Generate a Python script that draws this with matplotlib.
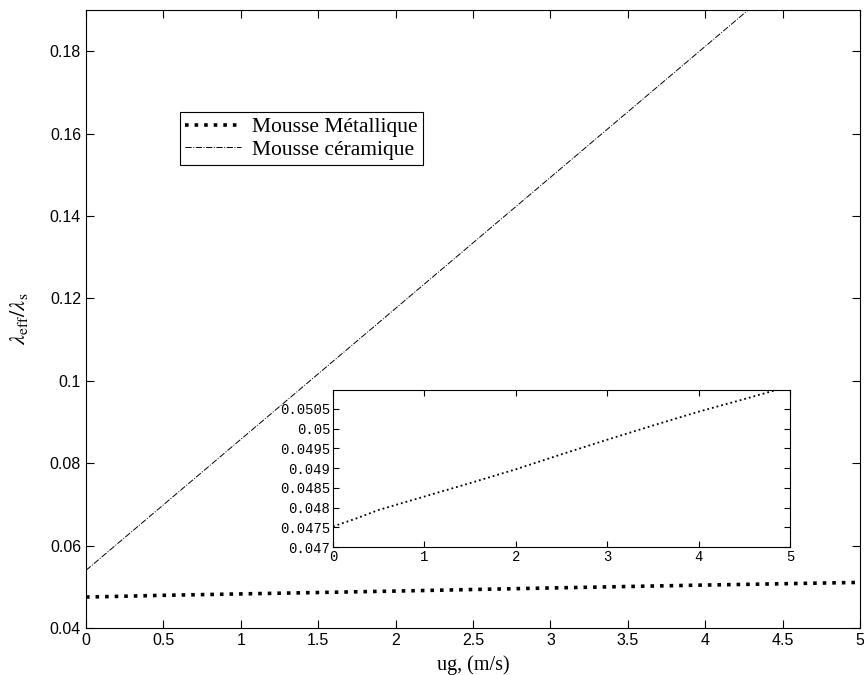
import matplotlib
matplotlib.use("Agg")
import matplotlib.pyplot as plt
import numpy as np

# vitesse du gaz (m/s)
ug = [0, 0.25, 0.5, 1.0, 1.5, 2.0, 2.5, 3.0, 3.5, 4.0, 4.5, 5.0]
# conductivite effective / solide
metal = [0.04752, 0.04772, 0.04794, 0.04828, 0.04862, 0.04897,
         0.04935, 0.04972, 0.05008, 0.05043, 0.05075, 0.05108]
ceram_u = [0, 5.0]
ceram = [0.0540, 0.2130]

plt.rcParams['mathtext.fontset'] = 'stix'

fig = plt.figure(figsize=(8.64, 6.75), dpi=100)
ax = fig.add_axes([0.0995, 0.0696, 0.8959, 0.9154])

ax.plot(ug, metal, color='black', linestyle=':', linewidth=2.6, label='Mousse Métallique')
ax.plot(ceram_u, ceram, color='black', linestyle='-.', linewidth=0.7, label='Mousse céramique')

ax.set_xlim(0, 5)
ax.set_ylim(0.04, 0.19)
ax.set_xticks(np.arange(0, 5.01, 0.5))
ax.set_xticklabels(['0', '0.5', '1', '1.5', '2', '2.5', '3', '3.5', '4', '4.5', '5'])
ax.set_yticks(np.arange(0.04, 0.181, 0.02))
ax.set_yticklabels(['0.04', '0.06', '0.08', '0.1', '0.12', '0.14', '0.16', '0.18'])
ax.tick_params(direction='in', top=True, right=True, length=6, labelsize=11.5)
for lab in ax.get_xticklabels() + ax.get_yticklabels():
    lab.set_family('Liberation Sans')
for s in ax.spines.values():
    s.set_linewidth(0.8)

ax.set_xlabel('ug, (m/s)', family='Liberation Serif', fontsize=14.5, labelpad=5)
ax.set_ylabel(r'$\lambda_{\mathrm{eff}}/\lambda_{\mathrm{s}}$', fontsize=16, labelpad=14)

leg = ax.legend(loc='upper left', bbox_to_anchor=(0.1075, 0.853), fancybox=False,
                edgecolor='black', framealpha=1, handlelength=2.6, handletextpad=0.5,
                borderpad=0.25, labelspacing=0.12, prop={'family': 'Liberation Serif', 'size': 15.5})
leg.get_frame().set_linewidth(0.8)

# encart
ins = fig.add_axes([0.3854, 0.1896, 0.5289, 0.2326])
ins.plot(ug, metal, color='black', linestyle=':', linewidth=1.3)
ins.set_xlim(0, 5)
ins.set_ylim(0.047, 0.05098)
ins.set_xticks([0, 1, 2, 3, 4, 5])
ins.set_yticks(np.arange(0.047, 0.05051, 0.0005))
ins.set_yticklabels(['0.047', '0.0475', '0.048', '0.0485', '0.049', '0.0495', '0.05', '0.0505'])
ins.tick_params(direction='in', top=True, right=True, length=4, labelsize=10, pad=2)
for lab in ins.get_xticklabels() + ins.get_yticklabels():
    lab.set_family('Liberation Mono')

fig.savefig('out.png', dpi=100)
plt.close(fig)
